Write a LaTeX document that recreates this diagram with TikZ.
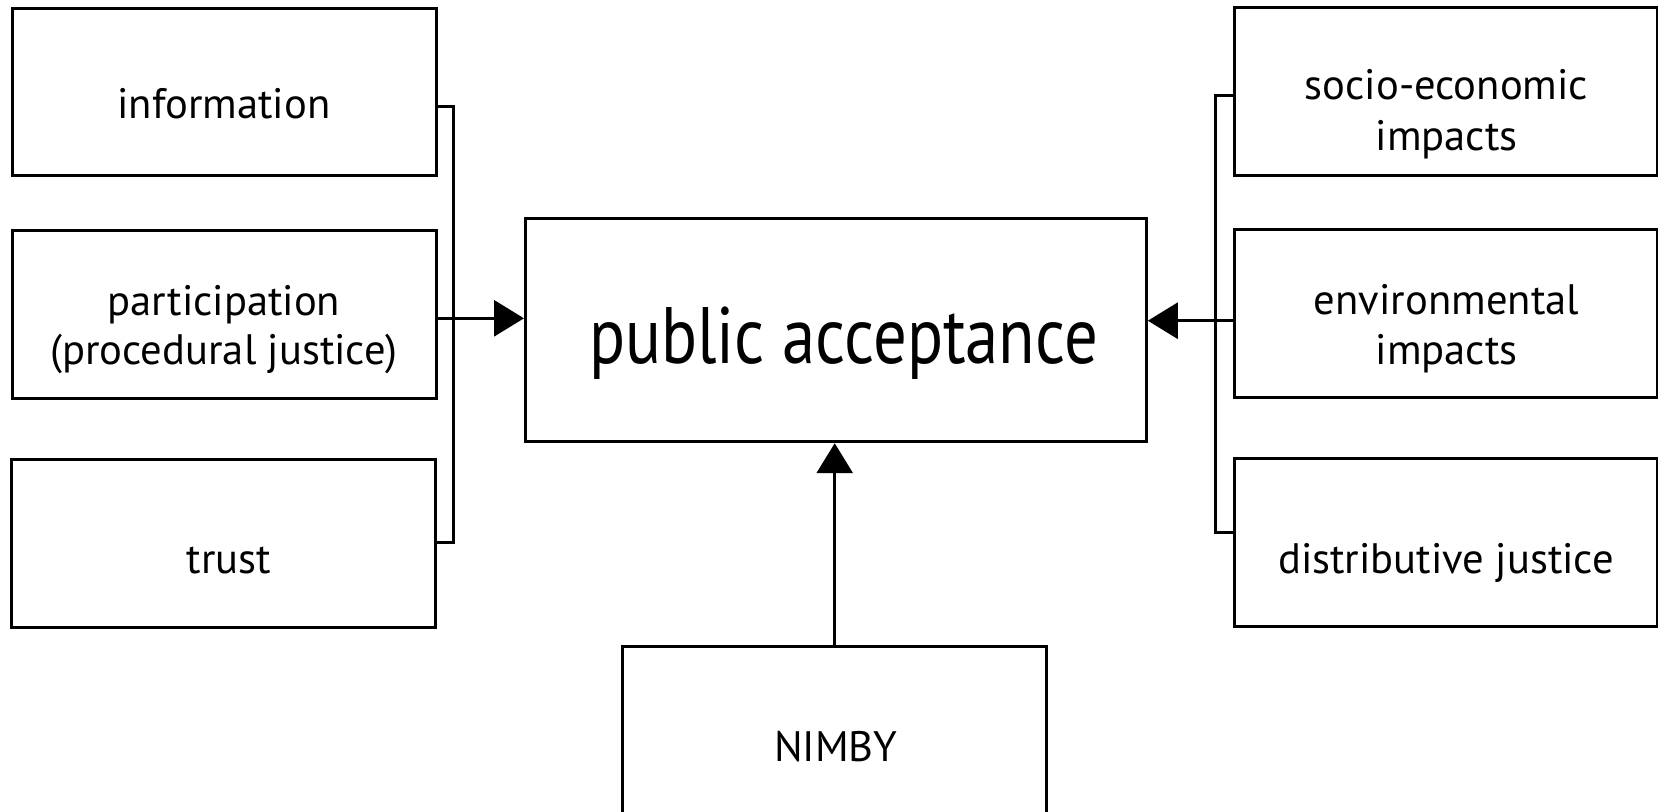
\documentclass[tikz,border=0pt]{standalone}
\usepackage{fontspec}
\setmainfont{PT Sans}
\usetikzlibrary{arrows.meta}
\tikzset{
  box/.style={draw, line width=1.5pt, rectangle, inner sep=0pt, minimum width=212pt, minimum height=83.9pt},
  bigbox/.style={draw, line width=1.5pt, rectangle, inner sep=0pt, minimum width=310.4pt, minimum height=111.7pt},
  lbl/.style={inner sep=0pt, anchor=base, font=\fontsize{21.3pt}{24pt}\selectfont},
  biglbl/.style={inner sep=0pt, anchor=base, font=\fontsize{40pt}{44pt}\selectfont},
  conn/.style={line width=1.5pt},
  arr/.style={line width=1.5pt, -{Triangle[length=15pt, width=18pt]}}
}
\begin{document}
\begin{tikzpicture}[x=0.5pt, y=-0.5pt]
\clip (0,0) rectangle (1658,811);
\fill[white] (0,0) rectangle (1658,811);
% boxes
\node[box] (info) at (224.1,92) {};
\node[box] (part) at (224.1,314.7) {};
\node[box] (trust) at (223.8,543.5) {};
\node[box, minimum width=211.2pt] (socio) at (1445.8,91.2) {};
\node[box, minimum width=211.2pt] (env) at (1445.8,313.7) {};
\node[box, minimum width=211.2pt] (dist) at (1445.8,542.5) {};
\node[bigbox] (pa) at (835.9,330) {};
\node[box] (nimby) at (834.7,730.6) {};
% labels
\node[lbl] (infot) at (224,118.3) {information};
\node[lbl] (partt1) at (224,315) {participation};
\node[lbl] (partt2) at (224,364) {(procedural justice)};
\node[lbl] (trustt) at (229,573.3) {trust};
\node[lbl] (sociot1) at (1446.5,99.3) {socio-economic};
\node[lbl] (sociot2) at (1446.5,150) {impacts};
\node[lbl] (envt1) at (1446.5,314) {environmental};
\node[lbl] (envt2) at (1446.5,364.3) {impacts};
\node[lbl] (distt) at (1446,573.3) {distributive justice};
\node[lbl] (nimbyt) at (835.8,761.7) {NIMBY};
\node[biglbl] (pat) at (843.5,363.3) {\scalebox{0.835}[1]{public acceptance}};
% connector coordinates
\coordinate (lb1) at (453.6,106);
\coordinate (lb2) at (453.6,542.7);
\coordinate (ly) at (0,318.3);
\coordinate (rb1) at (1215.7,95);
\coordinate (rb2) at (1215.7,532.3);
\coordinate (ry) at (0,320.7);
% connectors
\draw[conn] (info.east |- lb1) -- (lb1) -- (lb2) -- (trust.east |- lb2);
\draw[arr] (part.east |- ly) -- (pa.west |- ly);
\draw[conn] (socio.west |- rb1) -- (rb1) -- (rb2) -- (dist.west |- rb2);
\draw[arr] (env.west |- ry) -- (pa.east |- ry);
\draw[arr] (nimby.north) -- (nimby.north |- pa.south);
\end{tikzpicture}
\end{document}
